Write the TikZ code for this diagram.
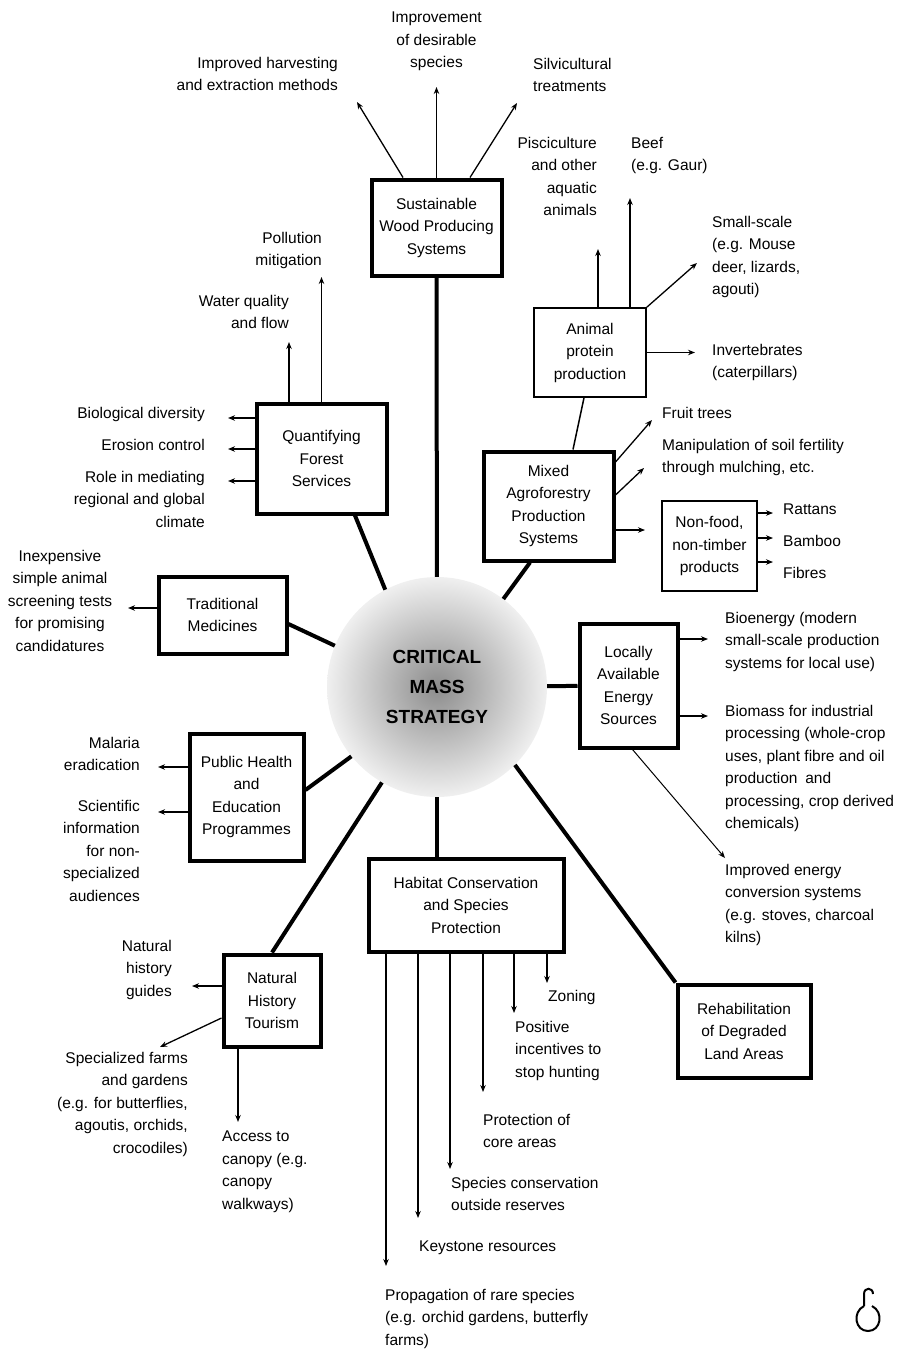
\documentclass[tikz,border=0pt]{standalone}
\usepackage{fontspec}
\setmainfont{Liberation Sans}
\usepackage{tikz}
\usetikzlibrary{arrows.meta}
\newcommand\labfont{\fontsize{15.5}{22.5}\selectfont}
\newcommand\hubfont{\fontsize{19}{30}\selectfont\bfseries}

\begin{document}
\begin{tikzpicture}[x=1pt, y=-1pt,
      every node/.style={font=\labfont},
      blk/.style={draw, line width=4pt, align=center, inner sep=0pt},
      sub/.style={draw, line width=1.6pt, align=center, inner sep=0pt},
      hub/.style={circle, minimum size=220pt, inner sep=0pt, shading=radial,
                  inner color=black!45, outer color=black!6, align=center, font=\hubfont},
      note/.style={inner sep=0pt},
      spoke/.style={line width=4pt},
      link/.style={line width=1.5pt},
      arr/.style={-{Stealth[length=7pt, width=5.5pt]}, line width=1.3pt}]
    \useasboundingbox (0,0) rectangle (901,1349);

    % hub
    \node[hub] (cms) at (437,687) {CRITICAL\\MASS\\STRATEGY};

    % main boxes
    \node[blk, minimum width=130pt, minimum height=96pt]  (sus)   at (436.5,227.5) {Sustainable\\Wood Producing\\Systems};
    \node[sub, minimum width=112pt, minimum height=89pt]  (ani)   at (590,352.5)   {Animal\\protein\\production};
    \node[blk, minimum width=130pt, minimum height=109pt] (mix)   at (548.5,506)   {Mixed\\Agroforestry\\Production\\Systems};
    \node[sub, minimum width=95pt,  minimum height=90pt]  (nf)    at (709.5,546)   {Non-food,\\non-timber\\products};
    \node[blk, minimum width=130pt, minimum height=110pt] (quant) at (321.5,458.5) {Quantifying\\Forest\\Services};
    \node[blk, minimum width=128pt, minimum height=77pt]  (trad)  at (222.5,615)   {Traditional\\Medicines};
    \node[blk, minimum width=114pt, minimum height=127pt] (ph)    at (246.5,797)   {Public Health\\and\\Education\\Programmes};
    \node[blk, minimum width=97pt,  minimum height=92pt]  (nh)    at (272,1000.5)  {Natural\\History\\Tourism};
    \node[blk, minimum width=98pt,  minimum height=124pt] (loc)   at (628.5,685.5) {Locally\\Available\\Energy\\Sources};
    \node[blk, minimum width=195pt, minimum height=93pt]  (hab)   at (466,905)     {Habitat Conservation\\and Species\\Protection};
    \node[blk, minimum width=133pt, minimum height=93pt]  (reh)   at (744,1031)    {Rehabilitation\\of Degraded\\Land Areas};

    % spokes from the hub
    \draw[spoke] (sus) -- (cms);
    \draw[spoke] ([xshift=33.5pt]quant.south) -- (cms.118);
    \draw[spoke] ([xshift=-18.5pt]mix.south) -- (cms.53);
    \draw[spoke] ([yshift=-9pt]trad.east) -- (cms.158);
    \draw[spoke] (cms) -- (loc);
    \draw[spoke] ([yshift=7pt]ph.east) -- (cms.219);
    \draw[spoke] (nh.north) -- (cms.240);
    \draw[spoke] (cms.south) -- (cms.south |- hab.north);
    \draw[spoke] (cms.-45) -- (reh.north west);
    \draw[link] ([xshift=-6pt]ani.south) -- ([xshift=24.5pt]mix.north);

    % wood
    \node[note, anchor=north east, align=right] (harv) at (338,57) {Improved harvesting\\and extraction methods};
    \node[note, anchor=north, align=center] (impr) at (436.5,12) {Improvement\\of desirable\\species};
    \node[note, anchor=north west, align=left] (silv) at (533,58) {Silvicultural\\treatments};
    \coordinate (tharv) at (357,102);
    \coordinate (timpr) at (436.5,87);
    \coordinate (tsilv) at (517,103);
    \draw[arr] ([xshift=-33.5pt]sus.north) -- (tharv);
    \draw[arr] (sus.north) -- (timpr);
    \draw[arr] ([xshift=33.5pt]sus.north) -- (tsilv);

    % animal protein
    \node[note, anchor=north east, align=right] (pisc) at (597,137) {Pisciculture\\and other\\aquatic\\animals};
    \node[note, anchor=north west, align=left] (beef) at (631,137) {Beef\\(e.g. Gaur)};
    \node[note, anchor=north west, align=left] (smal) at (712,216) {Small-scale\\(e.g. Mouse\\deer, lizards,\\agouti)};
    \node[note, anchor=north west, align=left] (inve) at (712,344) {Invertebrates\\(caterpillars)};
    \coordinate (tpisc) at (598,249);
    \coordinate (tbeef) at (630,198);
    \coordinate (tsmal) at (697,263);
    \coordinate (tinve) at (695,352.5);
    \draw[arr] ([xshift=8pt]ani.north) -- (tpisc);
    \draw[arr] ([xshift=40pt]ani.north) -- (tbeef);
    \draw[arr] (ani.north east) -- (tsmal);
    \draw[arr] (ani.east) -- (tinve);

    % agroforestry
    \node[note, anchor=north west, align=left] (frui) at (662,407) {Fruit trees};
    \node[note, anchor=north west, align=left] (soil) at (662,439) {Manipulation of soil fertility\\through mulching, etc.};
    \node[note, anchor=north west] (ratt) at (783,504) {Rattans};
    \node[note, anchor=north west] (bamb) at (783,535) {Bamboo};
    \node[note, anchor=north west] (fibr) at (783,567) {Fibres};
    \coordinate (tfrui) at (652,420);
    \coordinate (tsoil) at (644,468);
    \coordinate (tnf) at (645,530);
    \coordinate (tratt) at (773,513);
    \coordinate (tbamb) at (773,538);
    \coordinate (tfibr) at (773,562);
    \draw[arr] ([yshift=44pt]mix.east) -- (tfrui);
    \draw[arr] ([yshift=11pt]mix.east) -- (tsoil);
    \draw[arr] ([yshift=-24pt]mix.east) -- (tnf);
    \draw[arr] ([yshift=33pt]nf.east) -- (tratt);
    \draw[arr] ([yshift=8pt]nf.east) -- (tbamb);
    \draw[arr] ([yshift=-16pt]nf.east) -- (tfibr);

    % forest services
    \node[note, anchor=north east, align=right] (watr) at (289,295) {Water quality\\and flow};
    \node[note, anchor=north east, align=right] (poll) at (322,232) {Pollution\\mitigation};
    \node[note, anchor=north east] (biod) at (205,407) {Biological diversity};
    \node[note, anchor=north east] (eros) at (205,439) {Erosion control};
    \node[note, anchor=north east, align=right] (clim) at (205,471) {Role in mediating\\regional and global\\climate};
    \coordinate (twatr) at (289,342);
    \coordinate (tpoll) at (321.5,277);
    \coordinate (tbiod) at (228,418);
    \coordinate (teros) at (228,449);
    \coordinate (tclim) at (228,481);
    \draw[arr] ([xshift=-32.5pt]quant.north) -- (twatr);
    \draw[arr] (quant.north) -- (tpoll);
    \draw[arr] ([yshift=40.5pt]quant.west) -- (tbiod);
    \draw[arr] ([yshift=9.5pt]quant.west) -- (teros);
    \draw[arr] ([yshift=-22.5pt]quant.west) -- (tclim);

    % medicines
    \node[note, anchor=north, align=center] (scrn) at (60,550) {Inexpensive\\simple animal\\screening tests\\for promising\\candidatures};
    \coordinate (tscrn) at (128,608);
    \draw[arr] ([yshift=7pt]trad.west) -- (tscrn);

    % public health
    \node[note, anchor=north east, align=right] (mala) at (140,737) {Malaria\\eradication};
    \node[note, anchor=north east, align=right] (scie) at (140,800) {Scientific\\information\\for non-\\specialized\\audiences};
    \coordinate (tmala) at (158,767);
    \coordinate (tscie) at (158,812);
    \draw[arr] ([yshift=30pt]ph.west) -- (tmala);
    \draw[arr] ([yshift=-15pt]ph.west) -- (tscie);

    % tourism
    \node[note, anchor=north east, align=right] (guid) at (172,940) {Natural\\history\\guides};
    \node[note, anchor=north east, align=right] (farm) at (188,1052) {Specialized farms\\and gardens\\(e.g. for butterflies,\\agoutis, orchids,\\crocodiles)};
    \node[note, anchor=north west, align=left] (cano) at (222,1131) {Access to\\canopy (e.g.\\canopy\\walkways)};
    \coordinate (tguid) at (192,986);
    \coordinate (tfarm) at (160,1047);
    \coordinate (tcano) at (238,1122);
    \draw[arr] ([yshift=14.5pt]nh.west) -- (tguid);
    \draw[arr] ([yshift=-17.5pt]nh.west) -- (tfarm);
    \draw[arr] ([xshift=-34pt]nh.south) -- (tcano);

    % energy
    \node[note, anchor=north west, align=left] (bioe) at (725,612) {Bioenergy (modern\\small-scale production\\systems for local use)};
    \node[note, anchor=north west, align=left] (biom) at (725,705) {Biomass for industrial\\processing (whole-crop\\uses, plant fibre and oil\\production\enspace and\\processing, crop derived\\chemicals)};
    \node[note, anchor=north west, align=left] (conv) at (725,864) {Improved energy\\conversion systems\\(e.g. stoves, charcoal\\kilns)};
    \coordinate (tbioe) at (708,639);
    \coordinate (tbiom) at (708,716);
    \coordinate (tconv) at (725,858);
    \draw[arr] ([yshift=46.5pt]loc.east) -- (tbioe);
    \draw[arr] ([yshift=-30.5pt]loc.east) -- (tbiom);
    \draw[arr, line width=1pt] ([xshift=4pt]loc.south) -- (tconv);

    % habitat
    \node[note, anchor=north west] (zone) at (548,990) {Zoning};
    \node[note, anchor=north west, align=left] (ince) at (515,1021) {Positive\\incentives to\\stop hunting};
    \node[note, anchor=north west, align=left] (core) at (483,1114) {Protection of\\core areas};
    \node[note, anchor=north west, align=left] (outs) at (451,1177) {Species conservation\\outside reserves};
    \node[note, anchor=north west] (keys) at (419,1241) {Keystone resources};
    \node[note, anchor=north west, align=left] (prop) at (385,1289) {Propagation of rare species\\(e.g. orchid gardens, butterfly\\farms)};
    \coordinate (tzone) at (547,983);
    \coordinate (tince) at (514,1013);
    \coordinate (tcore) at (483,1092);
    \coordinate (touts) at (450,1169);
    \coordinate (tkeys) at (418,1218);
    \coordinate (tprop) at (386,1266);
    \draw[arr] ([xshift=81pt]hab.south) -- (tzone);
    \draw[arr] ([xshift=48pt]hab.south) -- (tince);
    \draw[arr] ([xshift=17pt]hab.south) -- (tcore);
    \draw[arr] ([xshift=-16pt]hab.south) -- (touts);
    \draw[arr] ([xshift=-48pt]hab.south) -- (tkeys);
    \draw[arr] ([xshift=-80pt]hab.south) -- (tprop);

    % page mark
    \draw[line width=2pt] (864,1306) -- (864,1294) .. controls (864,1287) and (873,1287) .. (873,1294);
    \draw[line width=2pt] (864,1306) .. controls (852,1312) and (855,1331) .. (868,1331)
                                     .. controls (881,1331) and (884,1312) .. (872,1306);
\end{tikzpicture}
\end{document}
